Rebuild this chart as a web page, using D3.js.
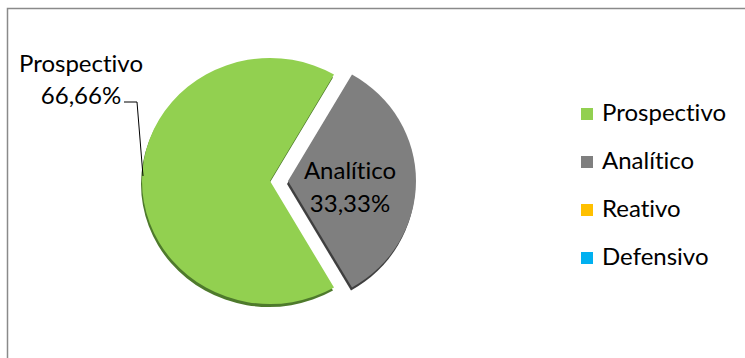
<!DOCTYPE html>
<html>
<head>
<meta charset="utf-8">
<script src="https://cdn.jsdelivr.net/npm/d3@7"></script>
<style>
  html, body { margin: 0; padding: 0; background: #fff; }
  svg { display: block; }
  text { font-family: Lato, "Open Sans", sans-serif; fill: #000; font-variant-ligatures: none; }
</style>
</head>
<body>
<svg id="chart"></svg>
<script>
const categories = ["Prospectivo", "Analítico", "Reativo", "Defensivo"];
const values = [66.66, 33.33, 0, 0];
const percentLabels = ["66,66%", "33,33%", "0,00%", "0,00%"];
const colors = ["#92D050", "#7F7F7F", "#FFC000", "#00B0F0"];
const shadowColors = ["#4E7A2C", "#3F3F3F", "#9a7400", "#006a90"];

document.addEventListener("DOMContentLoaded", function () {
    const width = 745, height = 358;
    const svg = d3.select("#chart").attr("width", width).attr("height", height);

    // chart frame (only top and left edges are visible)
    svg.append("path")
        .attr("d", "M7.5,400 L7.5,8.5 L800,8.5")
        .attr("fill", "none")
        .attr("stroke", "#8a8a8a")
        .attr("stroke-width", 1.5);

    const cx = 270, cy = 181, r = 123, sx = 128 / 123;
    const explode = [0, 18, 0, 0];

    const pie = d3.pie()
        .sort(null)
        .value(d => d)
        .startAngle(150 * Math.PI / 180)
        .endAngle(510 * Math.PI / 180);
    const arcs = pie(values);
    const arc = d3.arc().innerRadius(0).outerRadius(r);

    const g = svg.append("g").attr("transform", `translate(${cx},${cy})`);

    const slice = g.selectAll("g.slice")
        .data(arcs.filter(d => d.value > 0))
        .enter()
        .append("g")
        .attr("class", "slice")
        .attr("transform", d => {
            const mid = (d.startAngle + d.endAngle) / 2;
            const off = explode[d.index];
            return `translate(${Math.sin(mid) * off},${-Math.cos(mid) * off})`;
        });

    // bevel shadow
    slice.append("path")
        .attr("d", arc)
        .attr("transform", `translate(-1,3) scale(${sx},1)`)
        .attr("fill", d => shadowColors[d.index]);

    slice.append("path")
        .attr("d", arc)
        .attr("transform", `scale(${sx},1)`)
        .attr("fill", d => colors[d.index]);

    // inside label for Analítico
    const inside = arcs[1];
    const c = arc.centroid(inside);
    const insideX = c[0] * sx + explode[1];
    const insideY = c[1];
    const lab = g.append("text").attr("text-anchor", "middle").style("font-size", "24px");
    lab.append("tspan").attr("x", insideX - 2).attr("y", insideY - 2).text(categories[1]);
    lab.append("tspan").attr("x", insideX - 2).attr("y", insideY + 31).text(percentLabels[1]);

    // outside label for Prospectivo with leader line
    const p = arcs[0];
    const mid = (p.startAngle + p.endAngle) / 2;
    const edgeX = Math.sin(mid) * r * sx + 1;
    const edgeY = -Math.cos(mid) * r - 5;
    const lx = 81 - cx, ly = 72 - cy;
    const outLab = g.append("text").attr("text-anchor", "middle").style("font-size", "24px");
    outLab.append("tspan").attr("x", lx).attr("y", ly).text(categories[0]);
    outLab.append("tspan").attr("x", lx).attr("y", ly + 32).text(percentLabels[0]);

    g.append("path")
        .attr("d", `M${124 - cx},${102 - cy} L${137 - cx},${102 - cy} L${edgeX},${edgeY}`)
        .attr("fill", "none")
        .attr("stroke", "#000")
        .attr("stroke-width", 1);

    // legend
    const y = d3.scalePoint().domain(categories).range([121, 265]);
    const legend = svg.append("g");
    const item = legend.selectAll("g")
        .data(categories)
        .enter()
        .append("g")
        .attr("transform", d => `translate(581,${y(d)})`);
    item.append("rect")
        .attr("x", 0)
        .attr("y", -13)
        .attr("width", 12)
        .attr("height", 12)
        .attr("fill", (d, i) => colors[i]);
    item.append("text")
        .attr("x", 21)
        .attr("y", 0)
        .style("font-size", "24px")
        .text(d => d);
});
</script>
</body>
</html>
